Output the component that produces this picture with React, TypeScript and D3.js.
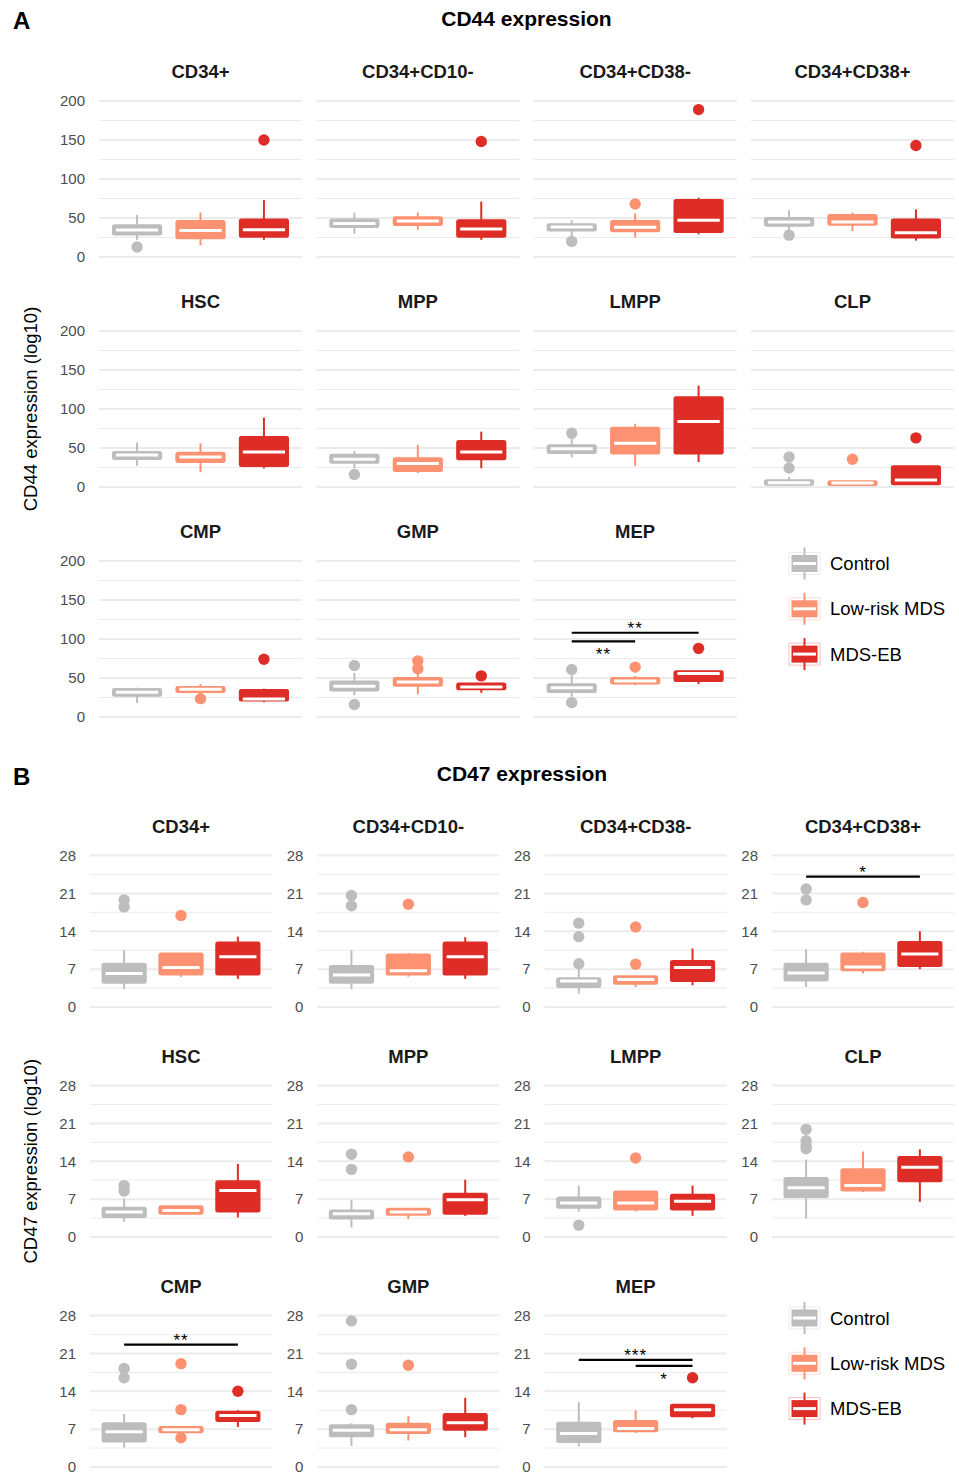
import React from 'react';
import * as d3 from 'd3';

// categories
const cellTypes = ['CD34+', 'CD34+CD10-', 'CD34+CD38-', 'CD34+CD38+', 'HSC', 'MPP', 'LMPP', 'CLP', 'CMP', 'GMP', 'MEP'];
const groups = ['Control', 'Low-risk MDS', 'MDS-EB'];
const groupColors = ['#BDBDBD', '#FC9272', '#DE2D26'];

// CD44: [lower whisker, Q1, median, Q3, upper whisker] per cell type
const cd44Control = [
  [22, 29, 34.7, 40.7, 54],
  [30, 38.5, 43, 48, 57],
  [26, 34, 38.5, 42, 47],
  [32, 40, 45, 50, 60],
  [27, 36, 41, 45, 57],
  [24, 31, 35.5, 41.5, 46],
  [38, 43.7, 49, 53.5, 62],
  [2, 3, 5.6, 8.6, 13],
  [18, 27.4, 31.7, 36, 37.7],
  [28, 34, 39.4, 45.4, 56.5],
  [26, 32, 37.5, 42, 53.5],
];
const cd44ControlOut = [[12.8], [], [20], [28], [], [16], [69], [38.5, 24.4], [], [66, 16], [61, 18.4]];

const cd44LowRisk = [
  [15, 24, 34, 46, 57],
  [35, 41, 46, 51, 57],
  [25, 33, 38, 46, 56],
  [33, 41.5, 45, 54, 57],
  [19, 32, 38.5, 44, 56],
  [18, 20.5, 30, 37, 54],
  [27, 43, 56, 76, 81],
  [2, 2.6, 5, 7.3, 7.5],
  [28, 32, 35.5, 38.5, 42],
  [29, 40, 45, 50, 55.7],
  [40.7, 43, 46, 50, 52.7],
];
const cd44LowRiskOut = [[], [], [68], [], [], [], [], [35.5], [23.5], [72, 62], [64]];

const cd44MdsEb = [
  [22, 26, 35, 48, 73],
  [22, 26, 36, 47, 71],
  [29, 32, 47, 73, 76],
  [21, 25, 31, 48, 61],
  [24, 27, 45, 64, 89],
  [24, 35.5, 45, 59, 71],
  [32, 43, 84, 115, 130],
  [3, 3.4, 9, 26.5, 26.5],
  [19, 21, 23, 34.7, 36.4],
  [31, 35.5, 38.5, 43, 43],
  [42, 46, 55.7, 58.7, 58.7],
];
const cd44MdsEbOut = [[150], [148], [189], [143], [], [], [], [63], [74], [52.7], [88]];

// CD47
const cd47Control = [
  [3.3, 4.5, 6.2, 8, 10.5],
  [3.3, 4.5, 5.9, 7.6, 10.5],
  [2.5, 3.7, 4.8, 5.3, 6.9],
  [3.7, 4.9, 6.3, 8, 10.7],
  [2.8, 3.7, 4.6, 5.4, 7.1],
  [1.8, 3.4, 4.3, 4.9, 6.8],
  [4.7, 5.4, 6.3, 7.3, 9.5],
  [3.4, 7.4, 9.1, 10.9, 14.3],
  [3.6, 4.7, 6.5, 8.1, 9.8],
  [3.9, 5.7, 6.8, 7.7, 8.1],
  [3.8, 4.6, 6.2, 8.2, 12],
];
const cd47ControlOut = [[19.8, 18.5], [20.6, 18.7], [15.5, 13, 8], [21.8, 19.8], [9.5, 8.5], [15.3, 12.5], [2.2], [19.9, 17.8, 16.9, 16.3], [18.2, 16.5], [27, 19, 10.6], []];

const cd47LowRisk = [
  [5.6, 6, 7.3, 9.9, 10],
  [5.6, 6, 6.7, 9.7, 10],
  [3.7, 4.3, 5.1, 5.7, 5.7],
  [6.2, 6.8, 7.4, 9.9, 10.2],
  [4.2, 4.3, 4.9, 5.7, 5.7],
  [3.3, 4.1, 4.6, 5.2, 5.2],
  [4.7, 5.1, 6.3, 8.4, 8.5],
  [8.3, 8.6, 9.5, 12.5, 15.8],
  [6.4, 6.4, 6.9, 7.4, 7.4],
  [4.9, 6.3, 6.9, 8, 9.4],
  [6.3, 6.6, 7.1, 8.5, 10.5],
];
const cd47LowRiskOut = [[16.9], [19], [14.8, 7.9], [19.3], [], [14.8], [14.6], [], [19.1, 10.6, 5.4], [18.8], []];

const cd47MdsEb = [
  [5.2, 6, 9.3, 11.9, 13],
  [5.2, 6, 9.3, 11.9, 12.9],
  [4, 4.8, 7.3, 8.5, 10.8],
  [7, 7.6, 9.8, 12, 14],
  [3.6, 4.7, 8.6, 10.3, 13.5],
  [3.9, 4.3, 6.9, 8, 10.6],
  [3.9, 5.1, 6.6, 7.8, 9.5],
  [6.5, 10.3, 12.9, 14.8, 16.2],
  [7.4, 8.5, 9.5, 10.2, 10.5],
  [5.5, 6.9, 8.2, 9.8, 12.8],
  [9, 9.4, 10.6, 11.5, 11.5],
];
const cd47MdsEbOut = [[], [], [], [], [], [], [], [], [14], [], [16.5]];

// tick labels
const cd44Ticks = [0, 50, 100, 150, 200];
const cd44Minor = [25, 75, 125, 175];
const cd47Ticks = [0, 7, 14, 21, 28];
const cd47Minor = [3.5, 10.5, 17.5, 24.5];

// significance brackets: cell, group from, group to, height, label, label under the line
const cd44Signif = [
  { cell: 'MEP', from: 0, to: 2, y: 108, label: '**', below: false },
  { cell: 'MEP', from: 0, to: 1, y: 97, label: '**', below: true },
];
const cd47Signif = [
  { cell: 'CD34+CD38+', from: 0, to: 2, y: 24.1, label: '*', below: false },
  { cell: 'CMP', from: 0, to: 2, y: 22.6, label: '**', below: false },
  { cell: 'MEP', from: 0, to: 2, y: 19.8, label: '***', below: false },
  { cell: 'MEP', from: 1, to: 2, y: 18.7, label: '*', below: true },
];

const FONT = '"Liberation Sans", Arial, Helvetica, sans-serif';

const Block = ({ tag, title, axisTitle, stats, outs, ticks, minor, signif, layout }) => {
  const { left0, colStep, width, top0, rowStep, height, axisEvery, titleY, tagY } = layout;
  const max = ticks[ticks.length - 1];
  const plotsRight = left0 + 3 * colStep + width;
  const plotsBottom = top0 + 2 * rowStep + height;

  return (
    <g>
      <text x={13} y={tagY} fontSize={24} fontWeight="bold" fill="#000">{tag}</text>
      <text x={(left0 + plotsRight) / 2} y={titleY} fontSize={21} fontWeight="bold" textAnchor="middle" fill="#000">{title}</text>
      <text
        transform={`translate(31,${(top0 + plotsBottom) / 2}) rotate(-90)`}
        fontSize={18.5}
        textAnchor="middle"
        dy="0.35em"
        fill="#000"
      >
        {axisTitle}
      </text>

      {cellTypes.map((cell, ci) => {
        const col = ci % 4;
        const row = Math.floor(ci / 4);
        const x0 = left0 + col * colStep;
        const top = top0 + row * rowStep;
        const x = d3.scalePoint().domain(groups).range([x0, x0 + width]).padding(0.6);
        const y = d3.scaleLinear().domain([0, max]).range([top + height, top]);
        const bw = x.step() * 0.76;

        return (
          <g key={cell}>
            {minor.map(t => (
              <line key={'m' + t} x1={x0} x2={x0 + width} y1={y(t)} y2={y(t)} stroke="#ebebeb" strokeWidth={1} />
            ))}
            {ticks.map(t => (
              <line key={'t' + t} x1={x0} x2={x0 + width} y1={y(t)} y2={y(t)} stroke="#ebebeb" strokeWidth={2} />
            ))}
            {(axisEvery || col === 0) &&
              ticks.map(t => (
                <text key={'l' + t} x={x0 - 14} y={y(t)} dy="0.35em" textAnchor="end" fontSize={15} fill="#4d4d4d">
                  {t}
                </text>
              ))}
            <text x={x0 + width / 2} y={top - 23} textAnchor="middle" fontSize={18.5} fontWeight="bold" fill="#1a1a1a">
              {cell}
            </text>

            {groups.map((g, gi) => {
              const [lo, q1, med, q3, hi] = stats[gi][ci];
              const cx = x(g);
              const c = groupColors[gi];
              return (
                <g key={g}>
                  <line x1={cx} x2={cx} y1={y(hi)} y2={y(q3)} stroke={c} strokeWidth={2} />
                  <line x1={cx} x2={cx} y1={y(q1)} y2={y(lo)} stroke={c} strokeWidth={2} />
                  <rect
                    x={cx - bw / 2}
                    y={y(q3)}
                    width={bw}
                    height={Math.max(0.5, y(q1) - y(q3))}
                    rx={1.5}
                    fill={c}
                    stroke={c}
                    strokeWidth={2}
                  />
                  <line x1={cx - bw / 2 + 3} x2={cx + bw / 2 - 3} y1={y(med)} y2={y(med)} stroke="#fff" strokeWidth={3} />
                  {outs[gi][ci].map((o, oi) => (
                    <circle key={oi} cx={cx} cy={y(o)} r={5.7} fill={c} />
                  ))}
                </g>
              );
            })}

            {signif
              .filter(s => s.cell === cell)
              .map((s, si) => {
                const xa = x(groups[s.from]);
                const xb = x(groups[s.to]);
                return (
                  <g key={'s' + si}>
                    <line x1={xa} x2={xb} y1={y(s.y)} y2={y(s.y)} stroke="#000" strokeWidth={2.2} />
                    <text
                      x={(xa + xb) / 2}
                      y={y(s.y) + (s.below ? 19 : 1.5)}
                      textAnchor="middle"
                      fontSize={17}
                      letterSpacing={1}
                      fill="#000"
                    >
                      {s.label}
                    </text>
                  </g>
                );
              })}
          </g>
        );
      })}

      {/* legend */}
      {groups.map((g, gi) => {
        const cy = top0 + 2 * rowStep + 2.5 + gi * 45.3;
        const c = groupColors[gi];
        const kx = 789;
        return (
          <g key={'leg' + g}>
            <rect x={kx} y={cy - 11} width={31} height={22} fill="none" stroke={c} strokeOpacity={0.3} strokeWidth={1} />
            <line x1={kx + 15.5} x2={kx + 15.5} y1={cy - 16} y2={cy + 16} stroke={c} strokeWidth={2} />
            <rect x={kx + 2.5} y={cy - 8.5} width={26} height={17} fill={c} />
            <line x1={kx + 4} x2={kx + 27} y1={cy} y2={cy} stroke="#fff" strokeWidth={3} />
            <text x={830} y={cy} dy="0.36em" fontSize={18.5} fill="#000">
              {g}
            </text>
          </g>
        );
      })}
    </g>
  );
};

const cd44Layout = { left0: 99, colStep: 217.33, width: 203, top0: 101, rowStep: 230, height: 156, axisEvery: false, titleY: 26, tagY: 29 };
const cd47Layout = { left0: 90, colStep: 227.33, width: 182, top0: 855.5, rowStep: 230, height: 151.5, axisEvery: true, titleY: 781, tagY: 785 };

export default function App() {
  return (
    <svg
      width={959}
      height={1473}
      style={{ position: 'absolute', left: 0, top: 0, background: '#fff', fontFamily: FONT }}
    >
      <Block
        tag="A"
        title="CD44 expression"
        axisTitle="CD44 expression (log10)"
        stats={[cd44Control, cd44LowRisk, cd44MdsEb]}
        outs={[cd44ControlOut, cd44LowRiskOut, cd44MdsEbOut]}
        ticks={cd44Ticks}
        minor={cd44Minor}
        signif={cd44Signif}
        layout={cd44Layout}
      />
      <Block
        tag="B"
        title="CD47 expression"
        axisTitle="CD47 expression (log10)"
        stats={[cd47Control, cd47LowRisk, cd47MdsEb]}
        outs={[cd47ControlOut, cd47LowRiskOut, cd47MdsEbOut]}
        ticks={cd47Ticks}
        minor={cd47Minor}
        signif={cd47Signif}
        layout={cd47Layout}
      />
    </svg>
  );
}
